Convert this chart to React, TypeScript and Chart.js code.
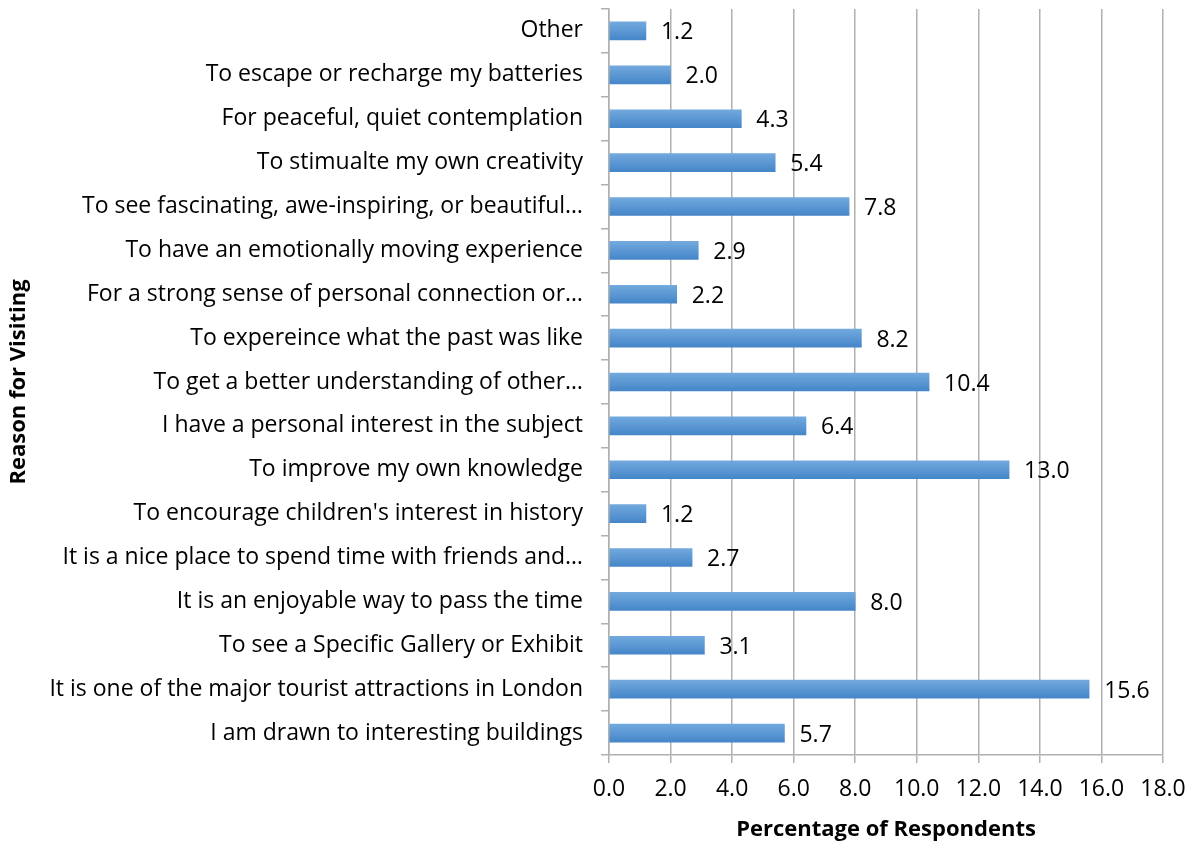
import React, { useEffect, useRef } from "react";
import { Chart, registerables } from "chart.js";

Chart.register(...registerables);

const reasons: string[] = [
  "Other",
  "To escape or recharge my batteries",
  "For peaceful, quiet contemplation",
  "To stimualte my own creativity",
  "To see fascinating, awe-inspiring, or beautiful…",
  "To have an emotionally moving experience",
  "For a strong sense of personal connection or…",
  "To expereince what the past was like",
  "To get a better understanding of other…",
  "I have a personal interest in the subject",
  "To improve my own knowledge",
  "To encourage children's interest in history",
  "It is a nice place to spend time with friends and…",
  "It is an enjoyable way to pass the time",
  "To see a Specific Gallery or Exhibit",
  "It is one of the major tourist attractions in London",
  "I am drawn to interesting buildings",
];

const percentages: number[] = [
  1.2, 2.0, 4.3, 5.4, 7.8, 2.9, 2.2, 8.2, 10.4, 6.4, 13.0, 1.2, 2.7, 8.0, 3.1, 15.6, 5.7,
];

const FONT = "'Open Sans', 'Noto Sans', sans-serif";

const valueLabels = {
  id: "valueLabels",
  afterDatasetsDraw(chart: any) {
    const { ctx } = chart;
    const meta = chart.getDatasetMeta(0);
    ctx.save();
    ctx.font = `23px ${FONT}`;
    ctx.fillStyle = "#000";
    ctx.textAlign = "left";
    ctx.textBaseline = "middle";
    meta.data.forEach((bar: any, i: number) => {
      ctx.fillText(percentages[i].toFixed(1), bar.x + 15, bar.y + 2);
    });
    ctx.restore();
  },
};

export default function App() {
  const canvasRef = useRef<HTMLCanvasElement | null>(null);

  useEffect(() => {
    document.body.style.margin = "0";
    const canvas = canvasRef.current;
    if (!canvas) return;
    const chart = new Chart(canvas, {
      type: "bar",
      data: {
        labels: reasons,
        datasets: [
          {
            data: percentages,
            barThickness: 18,
            borderWidth: 0,
            backgroundColor: (context: any) => {
              const c = context.chart;
              const yScale = c.scales?.y;
              if (!yScale || context.dataIndex === undefined) return "#5b9bd5";
              const cy = yScale.getPixelForValue(context.dataIndex);
              if (!Number.isFinite(cy)) return "#5b9bd5";
              const g = c.ctx.createLinearGradient(0, cy - 9, 0, cy + 9);
              g.addColorStop(0, "#72a9de");
              g.addColorStop(1, "#4586c8");
              return g;
            },
          },
        ],
      },
      options: {
        indexAxis: "y",
        responsive: false,
        animation: false,
        layout: { padding: { top: 9, right: 33, left: 0, bottom: 0 } },
        plugins: {
          legend: { display: false },
          tooltip: { enabled: false },
        },
        scales: {
          x: {
            min: 0,
            max: 18,
            ticks: {
              stepSize: 2,
              color: "#000",
              padding: 13,
              font: { family: FONT, size: 23 },
              callback: (v: any) => Number(v).toFixed(1),
            },
            grid: {
              color: "#b0b0b0",
              lineWidth: 1.5,
              drawTicks: true,
              tickLength: 8,
            },
            border: { display: true, color: "#b0b0b0", width: 1.5 },
            title: {
              display: true,
              text: "Percentage of Respondents",
              color: "#000",
              font: { family: FONT, size: 22, weight: "bold" },
              padding: { top: 5, bottom: 0 },
            },
            afterFit: (scale: any) => {
              scale.height = 88;
              scale.paddingLeft = 0;
              scale.paddingRight = 0;
            },
          },
          y: {
            ticks: {
              color: "#000",
              padding: 18,
              autoSkip: false,
              font: { family: FONT, size: 23 },
            },
            grid: {
              display: true,
              drawOnChartArea: false,
              drawTicks: true,
              tickLength: 8,
              color: "#b0b0b0",
              lineWidth: 1.5,
            },
            border: { display: true, color: "#b0b0b0", width: 1.5 },
            title: {
              display: true,
              text: "Reason for Visiting",
              color: "#000",
              font: { family: FONT, size: 22, weight: "bold" },
              padding: { top: 6, bottom: 0 },
            },
            afterFit: (scale: any) => {
              scale.width = 609;
              scale.paddingTop = 0;
              scale.paddingBottom = 0;
            },
          },
        },
      },
      plugins: [valueLabels],
    });
    return () => chart.destroy();
  }, []);

  return <canvas ref={canvasRef} width={1196} height={843} style={{ display: "block" }} />;
}
